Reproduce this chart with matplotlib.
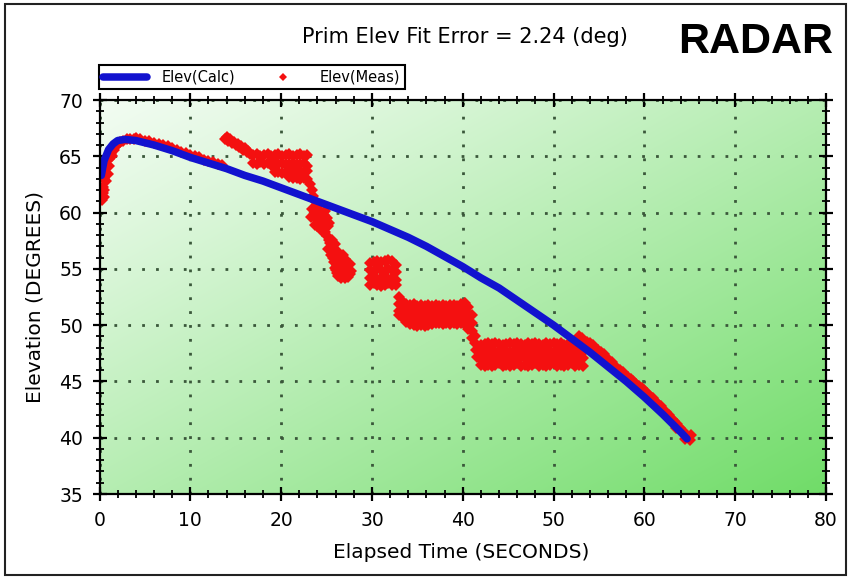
import numpy as np
import matplotlib
matplotlib.use("Agg")
import matplotlib.pyplot as plt
from matplotlib.patches import Rectangle
from matplotlib.ticker import MultipleLocator

# ---------------- data ----------------
calc_t = [0.2, 0.5, 1.0, 1.5, 2.0, 2.8, 4, 6, 8, 10, 12, 14, 16, 18, 20, 22, 24, 26,
          28, 30, 32, 34, 36, 38, 40, 42, 44, 46, 48, 50, 52, 54, 56, 58, 60, 62, 64, 64.7]
calc_elev = [63.3, 64.6, 65.6, 66.1, 66.4, 66.5, 66.4, 66.0, 65.5, 64.9, 64.4, 63.9,
             63.3, 62.8, 62.2, 61.6, 61.0, 60.4, 59.8, 59.2, 58.5, 57.8, 57.0, 56.1,
             55.2, 54.2, 53.3, 52.2, 51.1, 50.0, 48.8, 47.6, 46.3, 45.0, 43.6, 42.1,
             40.5, 39.9]

# ---- measured elevation, read segment by segment ----
meas_rise = [(0.30, 61.1), (0.35, 61.7), (0.40, 62.3), (0.45, 61.4), (0.50, 63.0),
             (0.55, 62.0), (0.60, 63.6), (0.70, 62.8), (0.80, 64.2), (0.90, 63.4),
             (1.00, 64.8), (1.10, 64.1), (1.25, 65.2), (1.40, 65.0), (1.60, 65.6),
             (1.80, 65.9), (2.00, 66.1), (2.30, 66.3), (2.60, 66.4), (3.00, 66.5),
             (3.40, 66.5), (3.80, 66.5)]
meas_drift = [(4.0, 66.6), (4.5, 66.5), (5.0, 66.4), (5.5, 66.4), (6.0, 66.2),
              (6.5, 66.1), (7.0, 66.0), (7.5, 65.9), (8.0, 65.7), (8.5, 65.6),
              (9.0, 65.4), (9.5, 65.3), (10.0, 65.1), (10.5, 65.0), (11.0, 64.9),
              (11.5, 64.7), (12.0, 64.6), (12.5, 64.5), (13.0, 64.3), (13.5, 64.2)]
meas_upper = [(13.8, 66.5), (14.0, 66.7), (14.2, 66.4), (14.4, 66.5), (14.6, 66.2),
              (14.8, 66.3), (15.0, 66.0), (15.2, 66.1), (15.4, 65.8), (15.6, 65.9),
              (15.8, 65.6), (16.0, 65.7), (16.2, 65.4), (16.4, 65.5), (16.6, 65.2)]

# block 17-23 s: rows of readings
block_a_t = [16.9, 17.3, 17.7, 18.1, 18.5, 18.9, 19.3, 19.7, 20.1, 20.5, 20.9, 21.3,
             21.7, 22.1, 22.5, 22.9]
block_a_r1 = [65.1, 65.2, 65.0, 65.1, 65.2, 65.0, 65.1, 65.2, 65.0, 65.1, 65.2, 65.0,
              65.1, 65.2, 65.0, 65.1]
block_a_r2 = [64.4, 64.3, 64.5, 64.3, 64.4, 64.2, 64.4, 64.3, 64.4, 64.2, 64.3, 64.4,
              64.2, 64.3, 64.4, 64.1]
block_a_r3_t = [19.3, 19.7, 20.1, 20.5, 20.9, 21.3, 21.7, 22.1, 22.5, 22.9]
block_a_r3 = [63.6, 63.6, 63.5, 63.6, 63.6, 63.7, 63.6, 63.7, 63.6, 63.7]
block_a_r4_t = [20.9, 21.3, 21.7, 22.1, 22.5, 22.9]
block_a_r4 = [63.2, 63.1, 63.1, 63.0, 63.1, 63.0]

meas_drop = [(23.2, 62.5), (23.4, 62.0), (23.5, 61.5), (23.7, 61.0), (23.9, 60.5),
             (24.2, 60.2), (23.6, 59.7), (23.9, 59.3), (24.4, 59.7), (24.0, 58.8),
             (24.6, 59.2), (24.9, 58.7), (24.5, 58.4), (25.2, 58.8), (25.0, 57.9),
             (23.4, 60.3), (23.3, 59.6), (24.1, 60.0), (24.8, 60.1), (25.1, 59.5),
             (24.7, 59.8), (23.7, 58.9), (24.3, 59.0), (25.3, 59.1), (24.8, 58.3)]
meas_blob_a = [(25.3, 57.6), (25.6, 57.0), (25.2, 56.8), (25.9, 56.5), (25.5, 56.2),
               (26.2, 55.9), (25.8, 55.6), (26.5, 55.5), (26.0, 54.9), (26.8, 55.1),
               (26.3, 54.4), (27.1, 54.7), (26.6, 54.2), (27.4, 54.3), (27.0, 54.2),
               (27.6, 54.5), (27.3, 55.3), (27.5, 54.9), (26.9, 55.6), (25.7, 56.0),
               (26.1, 55.3), (26.4, 54.9), (26.7, 54.6), (27.2, 55.0), (26.6, 55.2),
               (27.4, 54.6), (26.2, 54.6), (25.9, 57.2), (25.4, 57.3), (26.1, 56.6),
               (26.4, 56.1), (25.6, 57.6), (27.0, 55.9), (27.6, 55.4), (27.7, 54.8),
               (26.8, 56.2), (25.9, 55.1)]

# block 30-33 s
block_b_t = [29.8, 30.2, 30.6, 31.0, 31.4, 31.8, 32.2, 32.6]
block_b_r1 = [55.5, 55.6, 55.7, 55.6, 55.7, 55.8, 55.7, 55.3]
block_b_r2 = [54.9, 54.8, 55.0, 54.9, 54.8, 55.0, 54.9, 54.7]
block_b_r3 = [54.2, 54.3, 54.1, 54.2, 54.3, 54.1, 54.2, 54.0]
block_b_r4 = [53.6, 53.7, 53.6, 53.5, 53.6, 53.7, 53.6, 53.6]

# band 33-41 s
band_t = [33.0, 33.4, 33.8, 34.2, 34.6, 35.0, 35.4, 35.8, 36.2, 36.6, 37.0, 37.4,
          37.8, 38.2, 38.6, 39.0, 39.4, 39.8, 40.2, 40.6, 41.0]
band_r1 = [52.5, 52.1, 51.9, 51.8, 51.9, 51.7, 51.8, 51.7, 51.8, 51.7, 51.8, 51.7,
           51.8, 51.7, 51.8, 51.8, 51.7, 51.9, 52.0, 51.6, 50.9]
band_r2 = [51.9, 51.5, 51.3, 51.2, 51.3, 51.2, 51.1, 51.2, 51.3, 51.1, 51.2, 51.3,
           51.1, 51.2, 51.3, 51.2, 51.1, 51.2, 51.3, 51.0, 50.2]
band_r3 = [51.3, 51.0, 50.7, 50.6, 50.6, 50.5, 50.6, 50.5, 50.6, 50.5, 50.6, 50.7,
           50.6, 50.5, 50.6, 50.6, 50.5, 50.6, 50.6, 50.3, 49.5]
band_r4 = [50.9, 50.6, 50.3, 50.1, 50.0, 49.9, 50.0, 49.9, 50.0, 50.1, 50.2, 50.2,
           50.1, 50.2, 50.1, 50.2, 50.1, 50.2, 50.1, 49.7, 48.9]
meas_step = [(41.3, 48.4), (41.5, 47.8), (41.4, 49.0), (41.6, 47.2)]

# block 42-53 s
block_c_t = [42.0, 42.4, 42.8, 43.2, 43.6, 44.0, 44.4, 44.8, 45.2, 45.6, 46.0, 46.4,
             46.8, 47.2, 47.6, 48.0, 48.4, 48.8, 49.2, 49.6, 50.0, 50.4, 50.8, 51.2,
             51.6, 52.0, 52.4, 52.8, 53.2]
block_c_r1 = [48.2, 48.3, 48.4, 48.3, 48.4, 48.3, 48.2, 48.3, 48.4, 48.3, 48.4, 48.3,
              48.2, 48.4, 48.3, 48.4, 48.3, 48.2, 48.4, 48.3, 48.4, 48.3, 48.4, 48.2,
              48.3, 48.4, 48.3, 48.4, 48.3]
block_c_r2 = [47.6, 47.7, 47.8, 47.7, 47.6, 47.7, 47.8, 47.7, 47.6, 47.7, 47.8, 47.7,
              47.6, 47.7, 47.8, 47.7, 47.6, 47.7, 47.8, 47.7, 47.6, 47.7, 47.8, 47.7,
              47.6, 47.7, 47.8, 47.7, 47.6]
block_c_r3 = [47.0, 47.1, 47.0, 47.2, 47.1, 47.0, 47.1, 47.2, 47.0, 47.1, 47.0, 47.2,
              47.1, 47.0, 47.1, 47.2, 47.0, 47.1, 47.0, 47.2, 47.1, 47.0, 47.1, 47.2,
              47.0, 47.1, 47.0, 47.2, 47.1]
block_c_r4 = [46.5, 46.4, 46.5, 46.4, 46.5, 46.6, 46.4, 46.5, 46.4, 46.5, 46.6, 46.4,
              46.5, 46.4, 46.5, 46.6, 46.4, 46.5, 46.4, 46.5, 46.6, 46.4, 46.5, 46.4,
              46.5, 46.6, 46.4, 46.5, 46.4]

meas_tail = [(52.8, 49.0), (53.1, 48.9), (53.4, 48.6), (53.7, 48.5), (54.0, 48.4),
             (54.3, 48.2), (54.6, 48.0), (54.9, 47.8), (55.2, 47.6), (55.5, 47.4),
             (55.8, 47.1), (56.1, 46.9), (56.4, 46.7), (56.7, 46.4), (57.0, 46.2),
             (57.3, 46.0), (57.6, 45.8), (57.9, 45.6), (58.2, 45.4), (58.5, 45.2),
             (58.8, 45.0), (59.1, 44.8), (59.4, 44.6), (59.7, 44.4), (60.0, 44.2),
             (60.3, 44.0), (60.6, 43.7), (60.9, 43.5), (61.2, 43.3), (61.5, 43.0),
             (61.8, 42.8), (62.1, 42.5), (62.4, 42.3), (62.7, 42.0), (63.0, 41.7),
             (63.3, 41.5), (63.6, 41.2), (63.9, 40.9), (64.2, 40.6), (64.5, 40.3),
             (64.8, 40.1), (65.0, 39.8), (62.5, 41.8), (63.5, 40.9), (64.5, 39.9),
             (65.1, 40.2)]

x_ticks = [0, 10, 20, 30, 40, 50, 60, 70, 80]
y_ticks = [35, 40, 45, 50, 55, 60, 65, 70]

# gather all measured readings
meas = meas_rise + meas_drift + meas_upper
for tt, rows in [(block_a_t, [block_a_r1, block_a_r2]),
                 (block_a_r3_t, [block_a_r3]), (block_a_r4_t, [block_a_r4])]:
    for r in rows:
        meas += list(zip(tt, r))
meas += meas_drop + meas_blob_a
for r in [block_b_r1, block_b_r2, block_b_r3, block_b_r4]:
    meas += list(zip(block_b_t, r))
for r in [band_r1, band_r2, band_r3, band_r4]:
    meas += list(zip(band_t, r))
meas += meas_step
for r in [block_c_r1, block_c_r2, block_c_r3, block_c_r4]:
    meas += list(zip(block_c_t, r))
meas += meas_tail
meas_t = [p[0] for p in meas]
meas_elev = [p[1] for p in meas]

# ---------------- figure ----------------
W, H = 849, 578
fig = plt.figure(figsize=(W / 100, H / 100), dpi=100)
fig.patch.set_facecolor("white")

left, right, top, bottom = 99.5, 826, 100, 494
ax = fig.add_axes([left / W, 1 - bottom / H, (right - left) / W, (bottom - top) / H])

# green gradient background (light at top-left, deeper at bottom-right)
nx, ny = 300, 200
gx = np.linspace(0, 1, nx)[None, :]
gy = np.linspace(0, 1, ny)[:, None]  # row 0 = top
v = np.clip((gx + gy) / 2.0, 0, 1) ** 1.1
c0 = np.array([242, 252, 242]) / 255
c1 = np.array([112, 220, 104]) / 255
img = c0[None, None, :] * (1 - v[..., None]) + c1[None, None, :] * v[..., None]
ax.imshow(img, extent=[0, 1, 0, 1], transform=ax.transAxes, aspect="auto",
          zorder=0.1, interpolation="bilinear")

ax.plot(meas_t, meas_elev, ls="none", marker="D", ms=6.0, mew=0,
        color="#f41010", zorder=3, label="Elev(Meas)")
ax.plot(calc_t, calc_elev, color="#1212cf", lw=5.4, zorder=4,
        solid_capstyle="round", label="Elev(Calc)")

ax.set_xlim(0, 80)
ax.set_ylim(35, 70)
ax.set_xticks(x_ticks)
ax.set_yticks(y_ticks)
ax.xaxis.set_minor_locator(MultipleLocator(2))
ax.yaxis.set_minor_locator(MultipleLocator(1))
ax.set_axisbelow(True)
ax.grid(True, which="major", color="#3a573a", linestyle=(0, (1, 4)), linewidth=2)

for s in ax.spines.values():
    s.set_linewidth(1.6)
    s.set_color("black")
    s.set_zorder(5)
ax.tick_params(which="both", direction="inout", top=True, right=True,
               color="black")
ax.tick_params(which="major", length=10, width=1.6, pad=7, labelsize=13.5)
ax.tick_params(which="minor", length=6, width=1.3)

fig.text(461 / W, 1 - 553 / H, "Elapsed Time (SECONDS)", ha="center", va="center",
         fontsize=14.5)
fig.text(35 / W, 1 - 297 / H, "Elevation (DEGREES)", ha="center", va="center",
         rotation=90, fontsize=14.5)
fig.text(465 / W, 1 - 37 / H, "Prim Elev Fit Error = 2.24 (deg)", ha="center",
         va="center", fontsize=15)
fig.text(756 / W, 1 - 42 / H, "RADAR", ha="center", va="center", fontsize=31,
         fontweight="bold", family=["Liberation Sans", "DejaVu Sans"])

h, l = ax.get_legend_handles_labels()
order = [1, 0]
leg = fig.legend([h[i] for i in order], [l[i] for i in order], ncol=2,
                 loc="lower left", bbox_to_anchor=(99 / W, 1 - 89 / H),
                 bbox_transform=fig.transFigure, frameon=True, fancybox=False,
                 edgecolor="black", facecolor="white", framealpha=1,
                 fontsize=10.5, handlelength=3.0, handletextpad=1.0,
                 columnspacing=1.8, borderpad=0.3, borderaxespad=0,
                 markerscale=0.75)
leg.get_frame().set_linewidth(1.5)

fig.patches.append(Rectangle((4.5 / W, 3.5 / H), (846 - 4.5) / W, (574.5 - 3.5) / H,
                             transform=fig.transFigure, fill=False,
                             edgecolor="#222222", linewidth=1.5))

fig.savefig("out.png", dpi=100)
